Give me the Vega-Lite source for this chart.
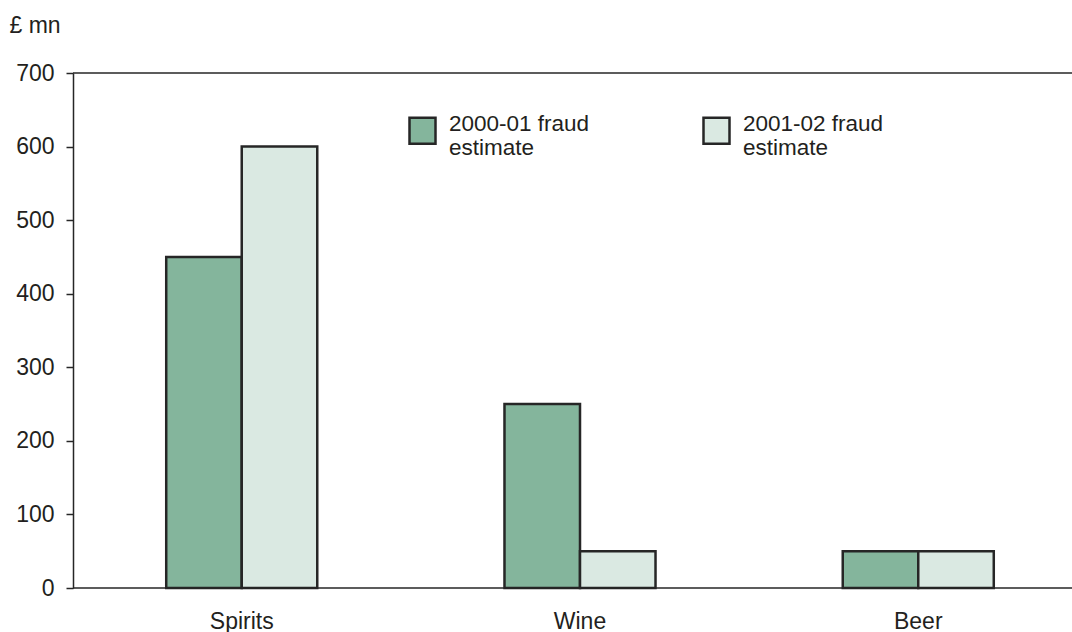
{
  "$schema": "https://vega.github.io/schema/vega-lite/v6.json",
  "width": 999,
  "height": 515,
  "autosize": {"type": "none"},
  "padding": {"left": 73, "top": 73, "right": 0, "bottom": 44},
  "background": "white",
  "config": {"view": {"stroke": null}, "font": "Liberation Sans"},
  "data": {
    "values": [
      {"drink": "Spirits", "period": "2000-01 fraud estimate", "value": 450},
      {"drink": "Spirits", "period": "2001-02 fraud estimate", "value": 600},
      {"drink": "Wine", "period": "2000-01 fraud estimate", "value": 250},
      {"drink": "Wine", "period": "2001-02 fraud estimate", "value": 50},
      {"drink": "Beer", "period": "2000-01 fraud estimate", "value": 50},
      {"drink": "Beer", "period": "2001-02 fraud estimate", "value": 50}
    ]
  },
  "layer": [
    {
      "mark": {"type": "bar", "stroke": "#262626", "strokeWidth": 2.5},
      "encoding": {
        "x": {
          "field": "drink",
          "type": "nominal",
          "sort": ["Spirits", "Wine", "Beer"],
          "scale": {"range": [0, 1014], "paddingInner": 0.5535, "paddingOuter": 0.2756},
          "axis": {
            "title": null,
            "domain": false,
            "ticks": false,
            "tickSize": 0,
            "labelAngle": 0,
            "labelFontSize": 23,
            "labelColor": "#231f20",
            "labelBaseline": "alphabetic",
            "labelPadding": 40
          }
        },
        "xOffset": {
          "field": "period",
          "type": "nominal",
          "scale": {"paddingInner": 0, "paddingOuter": 0}
        },
        "y": {
          "field": "value",
          "type": "quantitative",
          "scale": {"domain": [0, 700]},
          "axis": {
            "title": "£ mn",
            "titleAngle": 0,
            "titleAlign": "left",
            "titleBaseline": "alphabetic",
            "titleX": -64,
            "titleY": -41,
            "titleFontSize": 23,
            "titleFontWeight": "normal",
            "titleColor": "#231f20",
            "labelFontSize": 23,
            "labelColor": "#231f20",
            "tickSize": 7,
            "tickColor": "#262626",
            "tickWidth": 1.5,
            "domainColor": "#262626",
            "domainWidth": 1.5,
            "labelPadding": 12,
            "grid": false,
            "values": [0, 100, 200, 300, 400, 500, 600, 700]
          }
        },
        "color": {
          "field": "period",
          "type": "nominal",
          "scale": {"range": ["#84b59c", "#dae9e2"]},
          "legend": {
            "orient": "none",
            "legendX": 335,
            "legendY": 43,
            "direction": "horizontal",
            "columns": 2,
            "title": null,
            "padding": 0,
            "symbolType": "square",
            "symbolSize": 676,
            "symbolStrokeColor": "#262626",
            "symbolStrokeWidth": 2.5,
            "symbolOpacity": 1,
            "labelFontSize": 22.5,
            "labelColor": "#231f20",
            "labelOffset": 12,
            "labelLimit": 400,
            "columnPadding": 108,
            "labelBaseline": "alphabetic",
            "labelExpr": "[slice(datum.label, 0, 13), slice(datum.label, 14)]"
          }
        }
      }
    },
    {
      "data": {"values": [{"v": 0}, {"v": 700}]},
      "mark": {"type": "rule", "color": "#262626", "strokeWidth": 1.5},
      "encoding": {"y": {"field": "v", "type": "quantitative"}}
    }
  ]
}
